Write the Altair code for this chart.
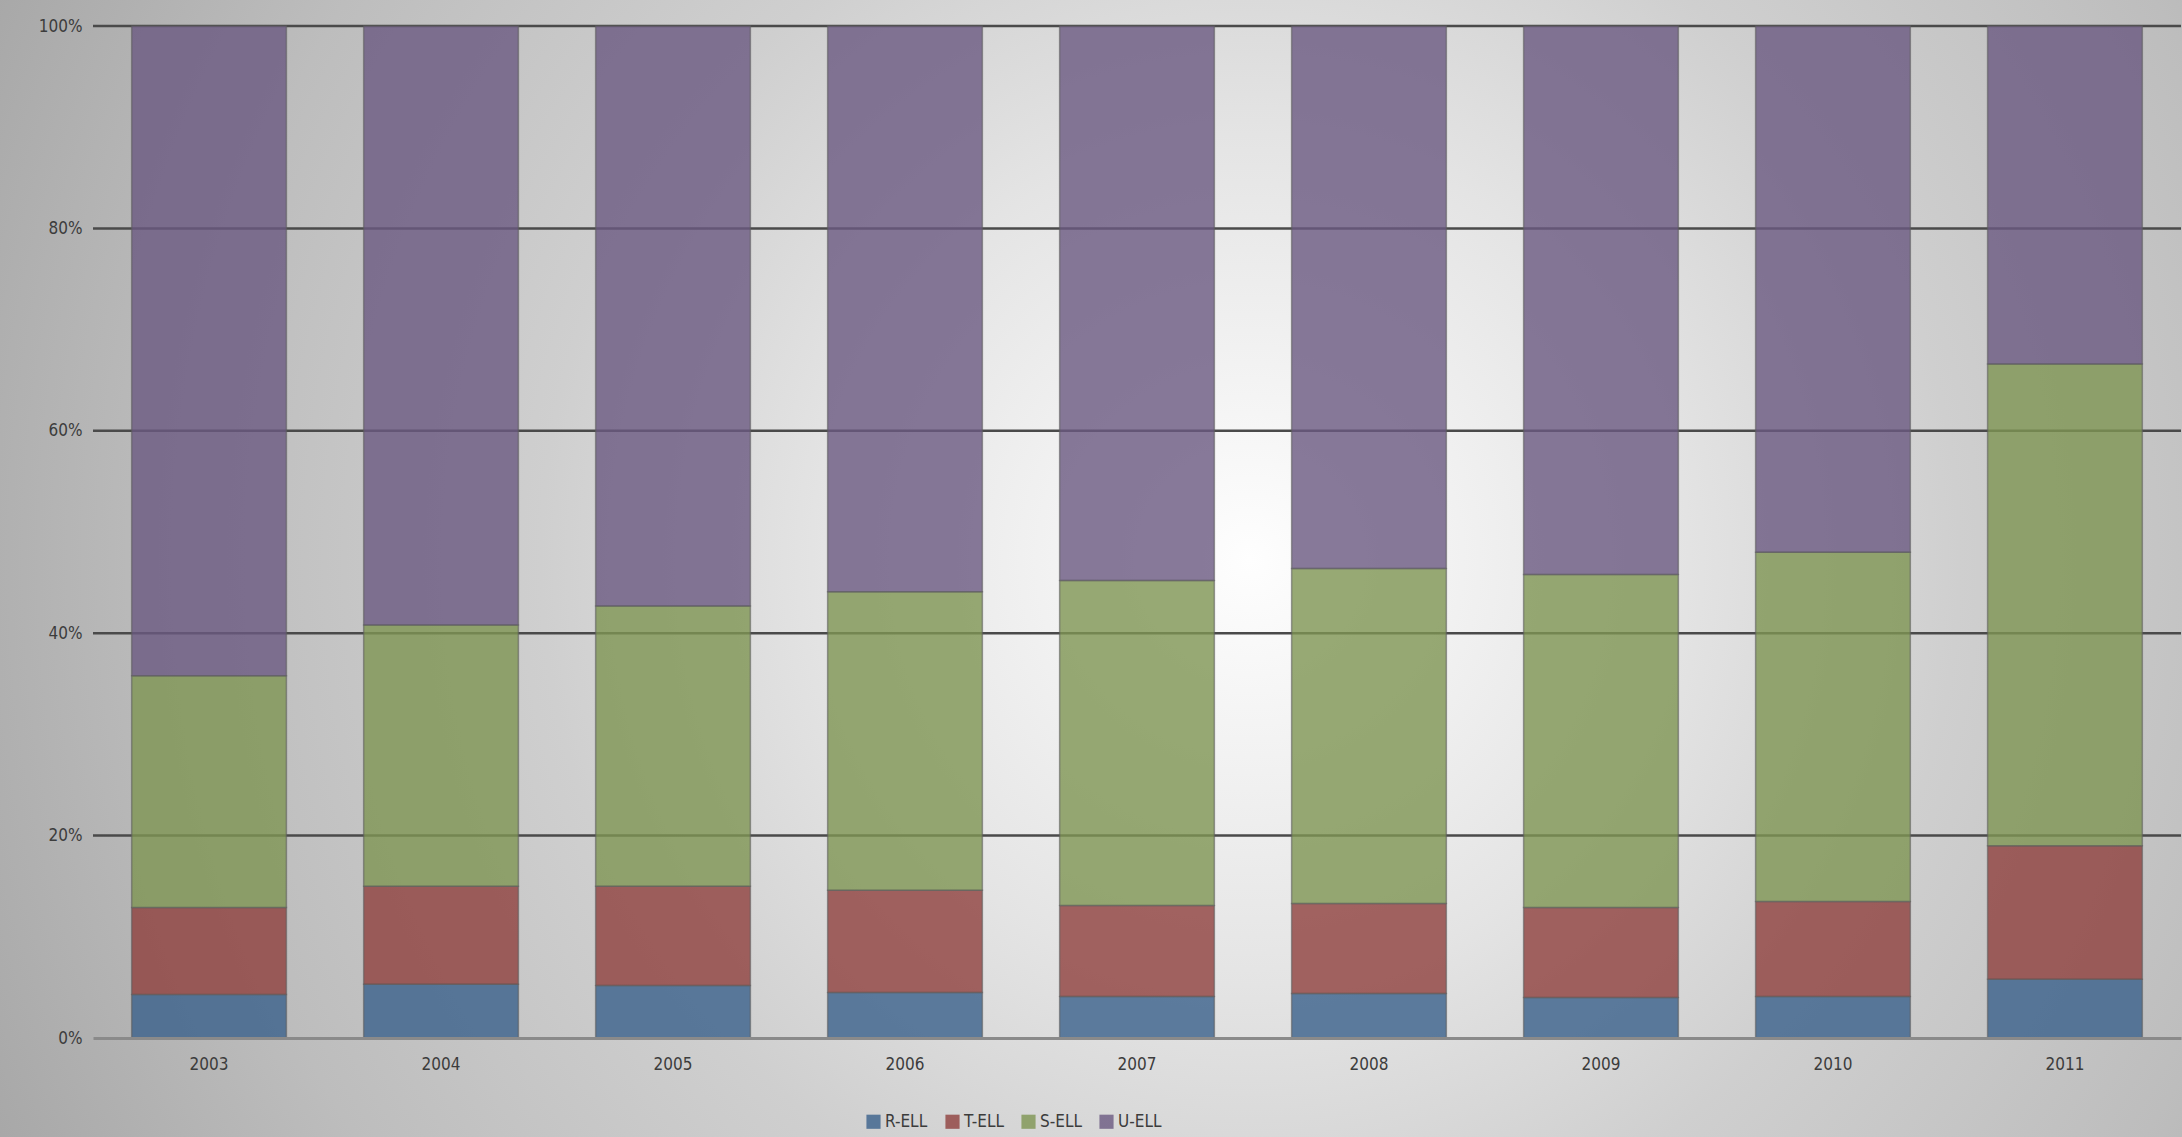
import altair as alt
import pandas as pd

years = ["2003", "2004", "2005", "2006", "2007", "2008", "2009", "2010", "2011"]
series = ["R-ELL", "T-ELL", "S-ELL", "U-ELL"]
r_ell = [4.3, 5.3, 5.2, 4.5, 4.1, 4.4, 4.0, 4.1, 5.8]
t_ell = [8.6, 9.7, 9.8, 10.1, 9.0, 8.9, 8.9, 9.4, 13.2]
s_ell = [22.9, 25.8, 27.7, 29.5, 32.1, 33.1, 32.9, 34.5, 47.6]
u_ell = [64.2, 59.2, 57.3, 55.9, 54.8, 53.6, 54.2, 52.0, 33.4]
grid_ticks = [0.2, 0.4, 0.6, 0.8, 1.0]
colors = ["#39608b", "#8e403d", "#7e9552", "#6a5981"]

rows = []
for i, y in enumerate(years):
    for k, (name, vals) in enumerate(zip(series, [r_ell, t_ell, s_ell, u_ell])):
        rows.append({"year": y, "series": name, "value": vals[i], "order": k})
df = pd.DataFrame(rows)

W, H = 2088, 1012
FONT = "DejaVu Sans Condensed, DejaVu Sans, sans-serif"
TXT = "#3c3c3c"

bg = alt.Chart(pd.DataFrame({"k": [0]})).mark_rect(
    fill=alt.Gradient(
        gradient="radial",
        stops=[
            alt.GradientStop(color="#fefefe", offset=0),
            alt.GradientStop(color="#e4e4e4", offset=0.3),
            alt.GradientStop(color="#cfcfcf", offset=0.5),
            alt.GradientStop(color="#bdbdbd", offset=0.75),
            alt.GradientStop(color="#a5a5a5", offset=1),
        ],
        x1=0.573, y1=0.496, r1=0, x2=0.573, y2=0.496, r2=0.65,
    )
).encode(x=alt.value(-93), x2=alt.value(W + 1), y=alt.value(-26), y2=alt.value(H + 99))

rules = alt.Chart(pd.DataFrame({"v": grid_ticks})).mark_rule(
    color="#4a4a4a", strokeWidth=2.5
).encode(
    y=alt.Y("v:Q", scale=alt.Scale(domain=[0, 1], nice=False)),
    x=alt.value(0), x2=alt.value(W),
)

bars = alt.Chart(df).mark_bar(
    fillOpacity=0.8, stroke="#5e5e5e", strokeWidth=1.5, strokeOpacity=0.6
).encode(
    x=alt.X("year:N", sort=years, title=None,
            scale=alt.Scale(paddingInner=0.333, paddingOuter=0.1667),
            axis=alt.Axis(labelAngle=0, ticks=False, domain=True, domainColor="#8a8a8a",
                          domainWidth=3, grid=False, labelPadding=18, labelFontSize=17,
                          labelFont=FONT, labelColor=TXT, zindex=1)),
    y=alt.Y("value:Q", stack="normalize", title=None,
            scale=alt.Scale(domain=[0, 1], nice=False),
            axis=alt.Axis(format=".0%", values=[0, 0.2, 0.4, 0.6, 0.8, 1.0], grid=False,
                          domain=False, ticks=False, labelPadding=11, labelFontSize=17,
                          labelFont=FONT, labelColor=TXT, zindex=1)),
    color=alt.Color("series:N", sort=series,
                    scale=alt.Scale(domain=series, range=colors),
                    legend=alt.Legend(title=None, orient="none", direction="horizontal",
                                      legendX=772, legendY=1087, symbolType="square",
                                      symbolSize=200, symbolOpacity=0.8, symbolStrokeWidth=0,
                                      labelFont=FONT, labelFontSize=17, labelColor=TXT,
                                      columnPadding=16, labelOffset=3, zindex=1)),
    order=alt.Order("order:Q", sort="ascending"),
)

chart = alt.layer(bg, rules, bars).properties(
    width=W, height=H,
    autosize=alt.AutoSizeParams(type="none"),
    padding={"left": 93, "top": 26, "right": 1, "bottom": 99},
    background="#b8b8b8",
).configure_view(stroke=None)

chart.save("out.html", embed_options={"renderer": "svg", "actions": False})
